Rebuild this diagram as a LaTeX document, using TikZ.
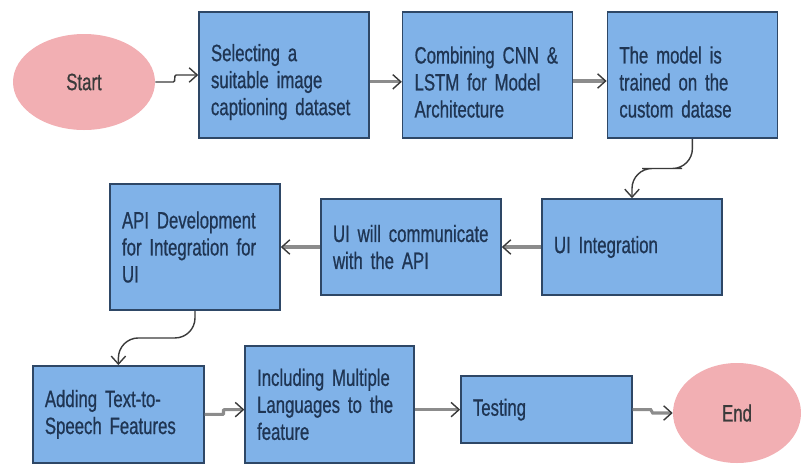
\documentclass[tikz,border=0pt]{standalone}
\usepackage{fontspec}
\setmainfont{Liberation Sans}[FakeStretch=0.71,FakeBold=0.7]
\usetikzlibrary{shapes,arrows.meta,positioning,calc}
\definecolor{boxfill}{HTML}{80B2E8}
\definecolor{boxline}{HTML}{2E4766}
\definecolor{pinkfill}{HTML}{F2AFB3}
\definecolor{darktext}{HTML}{1F3553}
\definecolor{greyline}{HTML}{8C8C8C}
\definecolor{darkline}{HTML}{3A3A3A}
\newcommand{\lowerline}{\rule{0pt}{0.78cm}}

\tikzset{
  stepbox/.style={draw=boxline, fill=boxfill, line width=1.1pt, inner xsep=0.3cm,
    align=left, text=darktext, font=\fontsize{16.8}{19.2}\selectfont},
  terminal/.style={ellipse, fill=pinkfill, inner sep=0pt, text=darkline,
    font=\fontsize{16.8}{19.2}\selectfont},
  thick link/.style={greyline, line width=2.2pt, -{Straight Barb[length=2mm,width=3.6mm,line width=1pt,darkline]}},
  thin link/.style={darkline, line width=1pt, -{Straight Barb[length=2mm,width=3.6mm]}},
}

\begin{document}
\begin{tikzpicture}
\useasboundingbox (0,0) rectangle (20.025,-11.65);
% first row
\node[terminal, minimum width=3.55cm, minimum height=2.4cm] (start) at (2.1,-2.05) {Start};
\node[stepbox, text width=3.65cm, minimum height=3.15cm] (select) at (7.1,-1.875) {\lowerline Selecting a\\suitable image\\captioning dataset};
\node[stepbox, text width=3.65cm, minimum height=3.15cm] (combine) at (12.19,-1.875) {\lowerline Combining CNN \&\\LSTM for Model\\Architecture};
\node[stepbox, text width=3.65cm, minimum height=3.15cm] (train) at (17.31,-1.875) {\lowerline The model is\\trained on the\\custom datase};
% second row
\node[stepbox, text width=3.9cm, minimum height=2.4cm] (uiint) at (15.8,-6.175) {UI Integration};
\node[stepbox, text width=3.9cm, minimum height=2.4cm] (comm) at (10.275,-6.175) {UI will communicate\\with the API};
\node[stepbox, text width=3.65cm, minimum height=3.15cm] (api) at (4.875,-6.175) {API Development\\for Integration for\\UI};
% third row
\node[stepbox, text width=3.675cm, minimum height=2.425cm] (speech) at (2.96,-10.36) {Adding Text-to-\\Speech Features};
\node[stepbox, text width=3.625cm, minimum height=2.925cm] (lang) at (8.24,-10.11) {Including Multiple\\Languages to the\\feature};
\node[stepbox, text width=3.675cm, minimum height=1.675cm] (test) at (13.66,-10.24) {Testing};
\node[terminal, minimum width=3.2cm, minimum height=2.5cm] (end) at (18.425,-10.325) {End};

\draw[thin link] (start.east) -- ++(0.45,0) to[out=0,in=180] ([xshift=-0.55cm]select.west) -- (select.west);
\draw[thick link] ([yshift=-0.17cm]select.east) -- ([yshift=-0.17cm]combine.west);
\draw[thick link] ([yshift=-0.15cm]combine.east) -- ([yshift=-0.15cm]train.west);
\draw[thin link, rounded corners=0.5cm] (train.south) |- ($(train.south)!0.5!(uiint.north)$) -| (uiint.north);
\draw[thick link] (uiint.west) -- (comm.east);
\draw[thick link] (comm.west) -- (api.east);
\draw[thin link, rounded corners=0.5cm] (api.south) |- ($(api.south)!0.5!(speech.north)$) -| (speech.north);
\draw[thick link] (speech.east) -- ++(0.45,0) to[out=0,in=180] ([xshift=-0.5cm]lang.west |- test.west) -- (lang.west |- test.west);
\draw[thick link] (lang.east |- test.west) -- (test.west);
\draw[thick link] (test.east) -- ++(0.45,0) to[out=0,in=180] ([xshift=-0.5cm]end.west) -- (end.west);
\end{tikzpicture}
\end{document}
